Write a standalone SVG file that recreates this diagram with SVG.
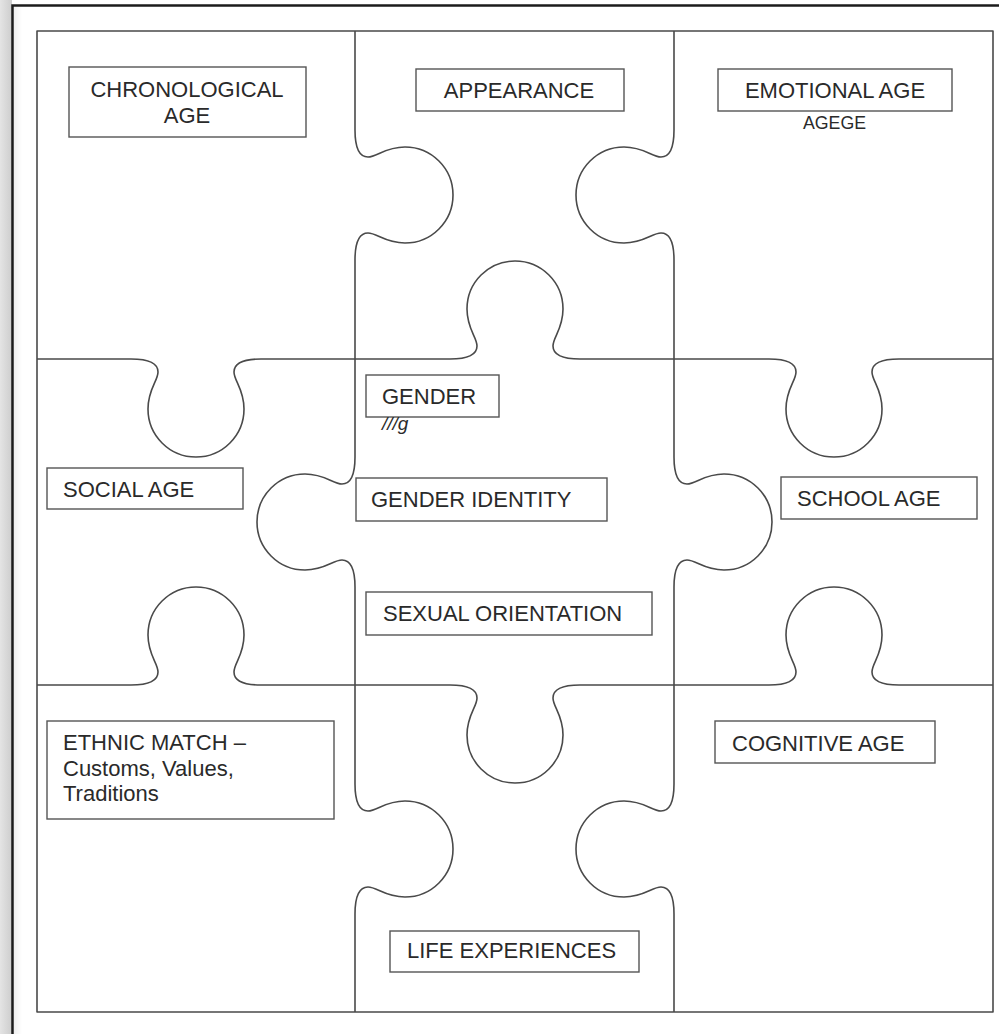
<svg xmlns="http://www.w3.org/2000/svg" width="999" height="1034" viewBox="0 0 999 1034">
  <defs>
    <linearGradient id="shade" x1="0" y1="0" x2="1" y2="0">
      <stop offset="0" stop-color="#e4e4e4"/>
      <stop offset="1" stop-color="#cdcdcd"/>
    </linearGradient>
    <linearGradient id="inshade" x1="0" y1="0" x2="1" y2="0">
      <stop offset="0" stop-color="#efefef"/>
      <stop offset="1" stop-color="#ffffff"/>
    </linearGradient>
    <style>
      .grid { fill: none; stroke: #4a4a4a; stroke-width: 1.6; stroke-linejoin: round; }
      .box rect { fill: #ffffff; stroke: #555555; stroke-width: 1.4; }
      .box text { font-family: "Liberation Sans", Arial, sans-serif; font-size: 22px; fill: #2a2a2a; }
      .small { font-size: 19px !important; }
    </style>
  </defs>

  <rect x="0" y="0" width="999" height="1034" fill="#ffffff"/>
  <rect x="0" y="0" width="12" height="1034" fill="url(#shade)"/>
  <rect x="14" y="7" width="8" height="1027" fill="url(#inshade)"/>
  <path d="M12.5,1034 V5.5 H999" fill="none" stroke="#1c1c1c" stroke-width="2.5"/>

  <g id="puzzle">
    <rect class="grid" x="37" y="31" width="956" height="981"/>
    <g id="connectors">
      <path class="grid" d="M355,31 V130 c0,15 3,27 13,27 c9,0 17,-10 37,-10 a48,48 0 0 1 0,96 c-20,0 -28,-10 -37,-10 c-10,0 -13,12 -13,27 V457 c0,15 -3,27 -13,27 c-9,0 -17,-10 -37,-10 a48,48 0 0 0 0,96 c20,0 28,-10 37,-10 c10,0 13,12 13,27 V784 c0,15 3,27 13,27 c9,0 17,-10 37,-10 a48,48 0 0 1 0,96 c-20,0 -28,-10 -37,-10 c-10,0 -13,12 -13,27 V1012"/>
      <path class="grid" d="M674,31 V130 c0,15 -3,27 -13,27 c-9,0 -17,-10 -37,-10 a48,48 0 0 0 0,96 c20,0 28,-10 37,-10 c10,0 13,12 13,27 V457 c0,15 3,27 13,27 c9,0 17,-10 37,-10 a48,48 0 0 1 0,96 c-20,0 -28,-10 -37,-10 c-10,0 -13,12 -13,27 V784 c0,15 -3,27 -13,27 c-9,0 -17,-10 -37,-10 a48,48 0 0 0 0,96 c20,0 28,-10 37,-10 c10,0 13,12 13,27 V1012"/>
      <path class="grid" d="M37,359 H131 c15,0 27,3 27,13 c0,9 -10,17 -10,37 a48,48 0 0 0 96,0 c0,-20 -10,-28 -10,-37 c0,-10 12,-13 27,-13 H450 c15,0 27,-3 27,-13 c0,-9 -10,-17 -10,-37 a48,48 0 0 1 96,0 c0,20 -10,28 -10,37 c0,10 12,13 27,13 H769 c15,0 27,3 27,13 c0,9 -10,17 -10,37 a48,48 0 0 0 96,0 c0,-20 -10,-28 -10,-37 c0,-10 12,-13 27,-13 H993"/>
      <path class="grid" d="M37,685 H131 c15,0 27,-3 27,-13 c0,-9 -10,-17 -10,-37 a48,48 0 0 1 96,0 c0,20 -10,28 -10,37 c0,10 12,13 27,13 H450 c15,0 27,3 27,13 c0,9 -10,17 -10,37 a48,48 0 0 0 96,0 c0,-20 -10,-28 -10,-37 c0,-10 12,-13 27,-13 H769 c15,0 27,-3 27,-13 c0,-9 -10,-17 -10,-37 a48,48 0 0 1 96,0 c0,20 -10,28 -10,37 c0,10 12,13 27,13 H993"/>
    </g>
  </g>

  <g id="chronological" class="box">
    <rect x="69" y="67" width="237" height="70"/>
    <text x="187" y="97" text-anchor="middle">CHRONOLOGICAL</text>
    <text x="187" y="123" text-anchor="middle">AGE</text>
  </g>
  <g id="appearance" class="box">
    <rect x="416" y="69" width="208" height="42"/>
    <text x="519" y="98" text-anchor="middle">APPEARANCE</text>
  </g>
  <g id="emotional" class="box">
    <rect x="718" y="69" width="234" height="42"/>
    <text x="835" y="98" text-anchor="middle">EMOTIONAL AGE</text>
    <text class="small" x="803" y="129" textLength="63" lengthAdjust="spacingAndGlyphs">AGEGE</text>
  </g>
  <g id="social" class="box">
    <rect x="47" y="468" width="196" height="41"/>
    <text x="63" y="497">SOCIAL AGE</text>
  </g>
  <g id="gender" class="box">
    <rect x="366" y="375" width="133" height="42"/>
    <text x="382" y="404">GENDER</text>
    <text class="small" x="382" y="430" font-style="italic">///g</text>
  </g>
  <g id="gender-identity" class="box">
    <rect x="356" y="478" width="251" height="43"/>
    <text x="371" y="507">GENDER IDENTITY</text>
  </g>
  <g id="sexual-orientation" class="box">
    <rect x="366" y="592" width="286" height="43"/>
    <text x="383" y="621">SEXUAL ORIENTATION</text>
  </g>
  <g id="school" class="box">
    <rect x="781" y="477" width="196" height="42"/>
    <text x="797" y="506">SCHOOL AGE</text>
  </g>
  <g id="ethnic" class="box">
    <rect x="47" y="721" width="287" height="98"/>
    <text x="63" y="750">ETHNIC MATCH –</text>
    <text x="63" y="776">Customs, Values,</text>
    <text x="63" y="801">Traditions</text>
  </g>
  <g id="cognitive" class="box">
    <rect x="715" y="721" width="220" height="42"/>
    <text x="732" y="751">COGNITIVE AGE</text>
  </g>
  <g id="life" class="box">
    <rect x="390" y="931" width="249" height="41"/>
    <text x="407" y="958">LIFE EXPERIENCES</text>
  </g>
</svg>
